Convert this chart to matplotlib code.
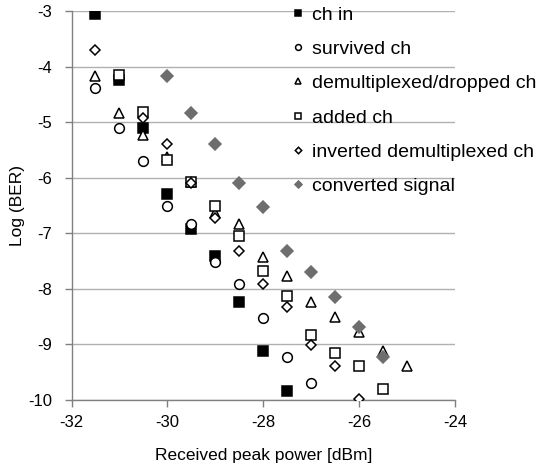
import matplotlib
matplotlib.use("Agg")
import matplotlib.pyplot as plt

plt.rcParams['font.family'] = ['Liberation Sans', 'DejaVu Sans']
plt.rcParams['axes.unicode_minus'] = False

# ch in (filled black squares)
ch_in_x = [-31.5, -31, -30.5, -30, -29.5, -29, -28.5, -28, -27.5]
ch_in_y = [-3.05, -4.24, -5.10, -6.30, -6.93, -7.41, -8.24, -9.12, -9.83]

# survived ch (open circles)
surv_x = [-31.5, -31, -30.5, -30, -29.5, -29, -28.5, -28, -27.5, -27]
surv_y = [-4.39, -5.10, -5.70, -6.51, -6.84, -7.52, -7.92, -8.52, -9.22, -9.69]

# demultiplexed/dropped ch (open triangles)
demux_x = [-31.5, -31, -30.5, -30, -29.5, -29, -28.5, -28, -27.5, -27, -26.5, -26, -25.5, -25]
demux_y = [-4.17, -4.83, -5.23, -5.62, -6.08, -6.63, -6.83, -7.43, -7.76, -8.24, -8.51, -8.77, -9.11, -9.39]

# added ch (open squares)
added_x = [-31, -30.5, -30, -29.5, -29, -28.5, -28, -27.5, -27, -26.5, -26, -25.5]
added_y = [-4.15, -4.81, -5.68, -6.08, -6.51, -7.05, -7.68, -8.13, -8.83, -9.15, -9.39, -9.81]

# inverted demultiplexed ch (open diamonds)
inv_x = [-31.5, -30.5, -30, -29.5, -29, -28.5, -28, -27.5, -27, -26.5, -26]
inv_y = [-3.70, -4.93, -5.40, -6.10, -6.72, -7.31, -7.92, -8.32, -9.01, -9.39, -9.99]

# converted signal (gray filled diamonds)
conv_x = [-30, -29.5, -29, -28.5, -28, -27.5, -27, -26.5, -26, -25.5]
conv_y = [-4.17, -4.83, -5.40, -6.09, -6.53, -7.31, -7.70, -8.15, -8.69, -9.23]

labels = ["ch in", "survived ch", "demultiplexed/dropped ch", "added ch",
          "inverted demultiplexed ch", "converted signal"]
x_ticks = [-32, -30, -28, -26, -24]
y_ticks = [-10, -9, -8, -7, -6, -5, -4, -3]

fig = plt.figure(figsize=(5.52, 4.68), dpi=100)
ax = fig.add_axes([71.5 / 552, 68 / 468, (455 - 71.5) / 552, (400 - 11) / 468])

ms = 6.5
ew = 1.1
ax.plot(ch_in_x, ch_in_y, 's', ms=ms, mfc='black', mec='black', mew=ew, label=labels[0], zorder=3)
ax.plot(surv_x, surv_y, 'o', ms=ms + 0.5, mfc='white', mec='black', mew=ew, label=labels[1], zorder=3)
ax.plot(demux_x, demux_y, '^', ms=ms + 1, mfc='white', mec='black', mew=ew, label=labels[2], zorder=3)
ax.plot(added_x, added_y, 's', ms=ms, mfc='white', mec='black', mew=ew, label=labels[3], zorder=3)
ax.plot(inv_x, inv_y, 'D', ms=ms - 1, mfc='white', mec='black', mew=ew, label=labels[4], zorder=3)
ax.plot(conv_x, conv_y, 'D', ms=ms - 0.5, mfc='#6e6e6e', mec='#6e6e6e', mew=ew, label=labels[5], zorder=3)

ax.set_xlim(-32, -24)
ax.set_ylim(-10, -3)
ax.set_xticks(x_ticks)
ax.set_xticklabels([str(v) for v in x_ticks])
ax.set_yticks(y_ticks)
ax.set_yticklabels([str(v) for v in y_ticks])
ax.yaxis.grid(True, color='#b0b0b0', linewidth=1.0)
ax.set_axisbelow(True)
for s in ['top', 'right']:
    ax.spines[s].set_visible(False)
for s in ['left', 'bottom']:
    ax.spines[s].set_color('#808080')
    ax.spines[s].set_linewidth(1.0)
ax.tick_params(axis='both', colors='#808080', labelcolor='black', labelsize=12, length=5, width=1.0)
ax.tick_params(axis='x', pad=6)
ax.tick_params(axis='y', pad=9)

ax.set_xlabel("Received peak power [dBm]", fontsize=12.5, labelpad=13)
ax.set_ylabel("Log (BER)", fontsize=12.5, labelpad=2)

leg = ax.legend(loc='upper left', bbox_to_anchor=(293 / 552, 1 - 6 / 468),
                bbox_transform=fig.transFigure, frameon=False, fontsize=14,
                markerscale=0.6, handlelength=0.5, handletextpad=0.5,
                labelspacing=0.86, borderpad=0, borderaxespad=0)

fig.savefig("out.png", dpi=100)
